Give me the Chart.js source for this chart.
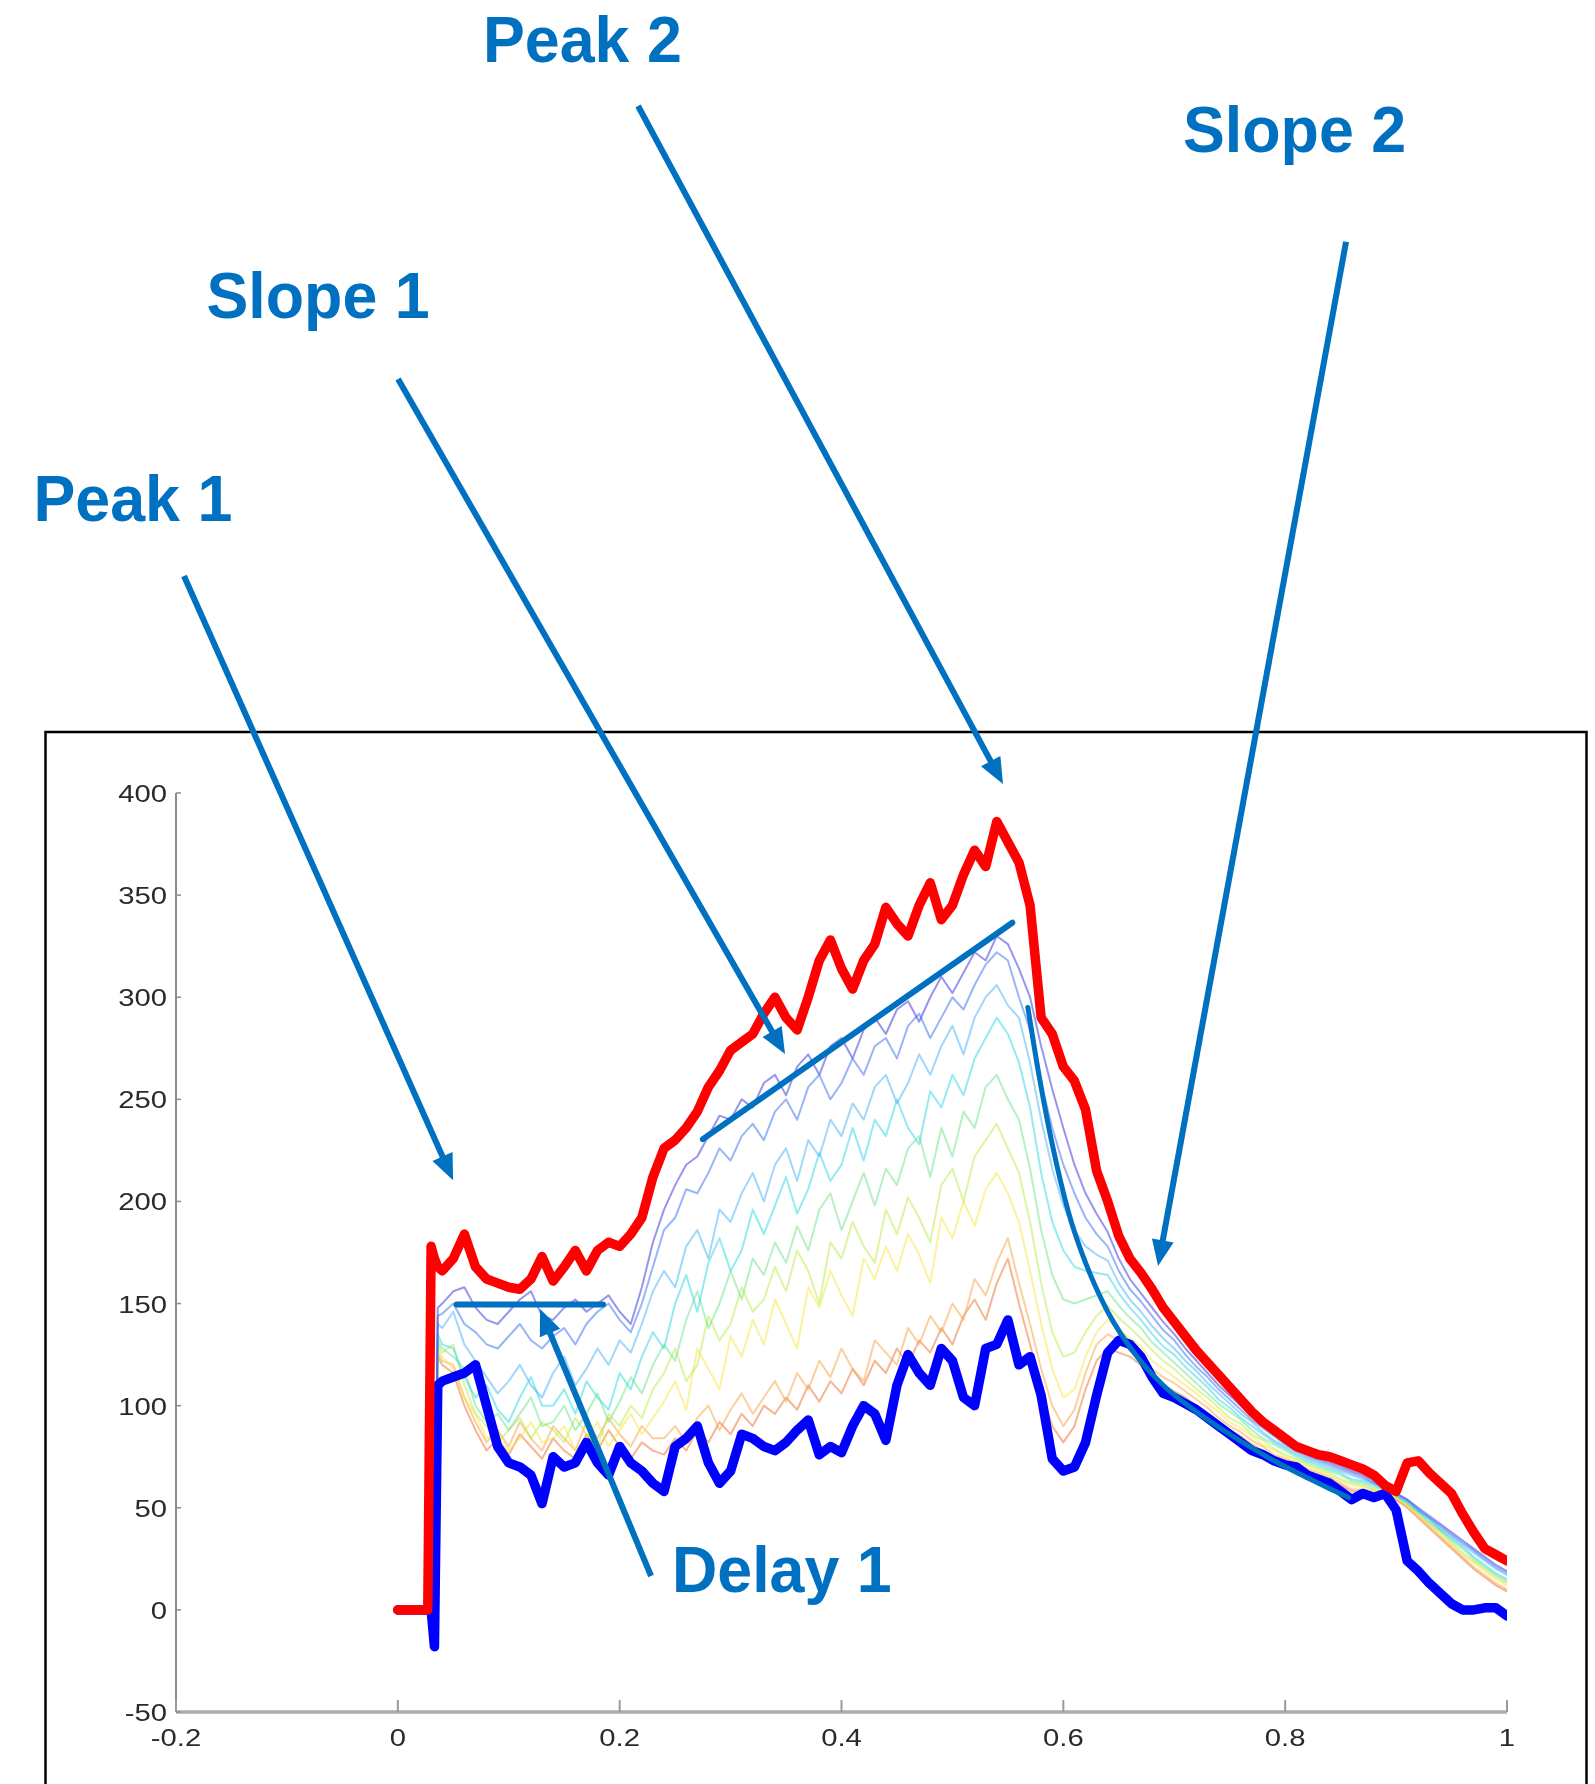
<!DOCTYPE html>
<html>
<head>
<meta charset="utf-8">
<script src="https://cdn.jsdelivr.net/npm/chart.js@4.4.1/dist/chart.umd.min.js"></script>
<style>
  html, body { margin: 0; padding: 0; background: #fff; }
  canvas { display: block; }
</style>
</head>
<body>
<canvas id="chart1" width="1595" height="1784"></canvas>
<script>
// x positions (s)
var xs = [0, 0.01, 0.02, 0.027, 0.03, 0.033, 0.036,
  0.04, 0.05, 0.06, 0.07, 0.08, 0.09, 0.10, 0.11, 0.12, 0.13,
  0.14, 0.15, 0.16, 0.17, 0.18, 0.19, 0.20, 0.21, 0.22, 0.23,
  0.24, 0.25, 0.26, 0.27, 0.28, 0.29, 0.30, 0.31, 0.32, 0.33,
  0.34, 0.35, 0.36, 0.37, 0.38, 0.39, 0.40, 0.41, 0.42, 0.43,
  0.44, 0.45, 0.46, 0.47, 0.48, 0.49, 0.50, 0.51, 0.52, 0.53,
  0.54, 0.55, 0.56, 0.57, 0.58, 0.59, 0.60, 0.61, 0.62, 0.63,
  0.64, 0.65, 0.66, 0.67, 0.68, 0.69, 0.70, 0.71, 0.72, 0.73,
  0.74, 0.75, 0.76, 0.77, 0.78, 0.79, 0.80, 0.81, 0.82, 0.83,
  0.84, 0.85, 0.86, 0.87, 0.88, 0.89, 0.90, 0.91, 0.92, 0.93,
  0.94, 0.95, 0.96, 0.97, 0.98, 0.99, 1.00];

// thick upper trace
var redLine = [0, 0, 0, 0, 178, 172, 168,
  166, 172, 184, 168, 162, 160, 158, 157, 162, 173,
  161, 168, 176, 166, 176, 180, 178, 184, 192, 212,
  226, 230, 236, 244, 256, 264, 274, 278, 282, 292,
  300, 290, 284, 300, 318, 328, 314, 304, 318, 326,
  344, 336, 330, 345, 356, 338, 345, 360, 372, 364,
  386, 376, 366, 345, 290, 282, 266, 259, 245, 215,
  200, 183, 172, 165, 157, 148, 141, 134, 127, 121,
  115, 109, 103, 97, 92, 88, 84, 80, 78, 76,
  75, 73, 71, 69, 66, 61, 58, 72, 73, 67,
  62, 57, 47, 38, 30, 27, 24];

// thick lower trace
var blueLine = [0, 0, 0, 0, 0, -18, 110,
  112, 114, 116, 120, 100, 80, 72, 70, 66, 52,
  75, 70, 72, 82, 72, 66, 80, 72, 68, 62,
  58, 80, 84, 90, 72, 62, 68, 86, 84, 80,
  78, 82, 88, 93, 76, 80, 77, 90, 100, 96,
  83, 110, 125, 116, 110, 128, 122, 104, 100, 128,
  130, 142, 120, 124, 105, 74, 68, 70, 82, 105,
  126, 132, 130, 124, 114, 106, 104, 101, 98, 94,
  90, 86, 82, 78, 76, 73, 71, 70, 66, 64,
  62, 58, 54, 57, 55, 57, 49, 24, 19, 13,
  8, 3, 0, 0, 1, 1, -3];

// thin intermediate traces
var t1 = [0, 0, 0, 0, 0, 0, 148,
  150, 156, 158, 148, 142, 140, 146, 152, 156, 144,
  142, 148, 152, 146, 150, 154, 146, 140, 158, 180,
  196, 208, 218, 222, 232, 242, 240, 250, 246, 258,
  262, 252, 266, 272, 262, 276, 280, 270, 284, 290,
  282, 294, 298, 288, 300, 310, 302, 312, 322, 318,
  330, 326, 314, 300, 276, 255, 236, 218, 204, 194,
  185, 172, 162, 155, 148, 141, 135, 128, 122, 116,
  110, 105, 100, 95, 90, 86, 82, 79, 76, 74,
  72, 70, 68, 66, 63, 60, 57, 54, 50, 46,
  42, 38, 34, 30, 26, 22, 19];
var t2 = [0, 0, 0, 0, 0, 0, 144,
  145, 150, 140, 136, 130, 128, 134, 140, 132, 128,
  134, 138, 130, 140, 146, 150, 142, 136, 150, 168,
  186, 192, 206, 204, 214, 226, 220, 232, 238, 230,
  244, 250, 240, 256, 262, 250, 258, 270, 262, 276,
  280, 270, 286, 292, 280, 290, 300, 294, 306, 316,
  322, 318, 300, 284, 258, 236, 218, 204, 192, 184,
  178, 166, 157, 151, 144, 137, 132, 125, 119, 114,
  108, 103, 98, 93, 89, 85, 81, 78, 75, 73,
  71, 69, 67, 65, 62, 60, 57, 54, 49, 45,
  41, 37, 33, 29, 25, 21, 18];
var t3 = [0, 0, 0, 0, 0, 0, 140,
  138, 146, 130, 122, 114, 106, 112, 120, 110, 104,
  116, 124, 110, 118, 128, 120, 132, 126, 140, 156,
  166, 158, 178, 186, 172, 196, 190, 204, 214, 200,
  218, 226, 210, 230, 222, 240, 232, 248, 240, 256,
  262, 248, 258, 272, 262, 276, 286, 272, 290, 300,
  306, 296, 290, 268, 240, 216, 198, 186, 178, 174,
  171, 160, 152, 146, 139, 133, 128, 122, 117, 111,
  106, 101, 96, 92, 87, 83, 80, 77, 74, 72,
  70, 68, 66, 64, 62, 59, 56, 53, 49, 45,
  40, 36, 32, 28, 24, 20, 17];
var t4 = [0, 0, 0, 0, 0, 0, 135,
  130, 128, 114, 104, 110, 98, 92, 104, 114, 100,
  100, 108, 96, 112, 104, 98, 116, 108, 124, 136,
  128, 150, 164, 146, 170, 182, 166, 176, 196, 184,
  198, 212, 194, 206, 224, 210, 218, 236, 220, 240,
  232, 250, 236, 228, 254, 246, 262, 252, 270, 280,
  290, 282, 268, 246, 214, 190, 176, 168, 166, 165,
  164, 155, 148, 142, 135, 129, 125, 119, 114, 109,
  103, 99, 94, 90, 86, 82, 79, 76, 73, 71,
  69, 67, 64, 63, 61, 59, 56, 53, 48, 44,
  39, 35, 31, 26, 22, 18, 15];
var t5 = [0, 0, 0, 0, 0, 0, 132,
  128, 124, 118, 100, 92, 96, 88, 96, 104, 90,
  92, 100, 88, 96, 106, 92, 102, 114, 106, 120,
  130, 122, 142, 156, 138, 150, 166, 152, 172, 164,
  180, 170, 188, 176, 196, 204, 186, 200, 214, 198,
  216, 208, 226, 232, 212, 236, 222, 244, 236, 256,
  262, 250, 240, 216, 186, 164, 152, 150, 152, 154,
  156, 149, 143, 138, 131, 126, 121, 116, 111, 106,
  101, 97, 93, 88, 84, 81, 78, 75, 72, 70,
  68, 66, 63, 62, 60, 59, 56, 52, 48, 43,
  39, 34, 30, 25, 21, 17, 14];
var t6 = [0, 0, 0, 0, 0, 0, 130,
  126, 130, 110, 96, 90, 82, 88, 94, 84, 92,
  88, 82, 94, 86, 80, 96, 90, 100, 94, 108,
  116, 128, 112, 120, 144, 132, 140, 158, 146, 152,
  168, 156, 176, 166, 150, 180, 172, 190, 178, 170,
  196, 184, 202, 192, 180, 208, 216, 200, 222, 230,
  238, 226, 214, 190, 160, 136, 124, 126, 136, 144,
  149, 143, 138, 133, 127, 122, 118, 113, 108, 104,
  99, 94, 91, 86, 83, 79, 76, 74, 71, 69,
  67, 64, 62, 61, 59, 58, 55, 52, 47, 42,
  38, 33, 28, 24, 20, 16, 13];
var t7 = [0, 0, 0, 0, 0, 0, 128,
  124, 118, 104, 96, 84, 88, 78, 84, 92, 82,
  84, 90, 78, 84, 92, 80, 88, 96, 86, 94,
  102, 112, 98, 128, 118, 108, 134, 124, 142, 130,
  152, 140, 128, 158, 148, 166, 154, 144, 172, 162,
  178, 166, 184, 174, 160, 192, 182, 200, 188, 206,
  214, 204, 190, 166, 140, 118, 104, 108, 124, 136,
  142, 137, 133, 129, 122, 118, 114, 110, 106, 101,
  97, 92, 89, 85, 81, 78, 75, 73, 70, 68,
  66, 63, 61, 60, 59, 58, 55, 51, 47, 42,
  37, 32, 27, 23, 19, 15, 12];
var t8 = [0, 0, 0, 0, 0, 0, 126,
  122, 120, 104, 92, 82, 88, 80, 92, 84, 78,
  90, 84, 78, 92, 84, 94, 86, 80, 90, 84,
  84, 90, 82, 94, 100, 88, 98, 106, 96, 104,
  112, 102, 116, 108, 122, 114, 128, 118, 112, 132,
  126, 120, 138, 130, 144, 136, 150, 142, 162, 154,
  170, 182, 160, 140, 118, 100, 90, 98, 116, 130,
  135, 132, 129, 124, 118, 114, 111, 107, 103, 99,
  94, 90, 87, 83, 80, 76, 74, 72, 69, 67,
  65, 62, 59, 59, 58, 57, 54, 51, 46, 41,
  36, 31, 26, 21, 17, 13, 10];
var t9 = [0, 0, 0, 0, 0, 0, 124,
  120, 116, 100, 88, 78, 84, 76, 86, 80, 74,
  84, 78, 74, 86, 78, 88, 80, 74, 82, 78,
  76, 84, 78, 88, 82, 92, 86, 96, 90, 100,
  96, 104, 98, 110, 102, 112, 106, 118, 110, 122,
  116, 128, 120, 132, 126, 138, 130, 144, 152, 142,
  160, 172, 150, 130, 108, 90, 82, 90, 108, 122,
  128, 126, 124, 120, 114, 110, 107, 104, 100, 96,
  92, 88, 85, 81, 78, 75, 73, 71, 68, 66,
  64, 61, 58, 58, 57, 57, 54, 50, 45, 40,
  35, 30, 25, 20, 16, 12, 9];

var thinSeries = [t1, t2, t3, t4, t5, t6, t7, t8, t9];
var thinColors = ['rgba(80,80,225,0.6)', 'rgba(70,120,240,0.55)', 'rgba(70,175,250,0.5)',
  'rgba(40,215,230,0.5)', 'rgba(110,225,140,0.5)', 'rgba(185,235,70,0.5)',
  'rgba(250,230,60,0.5)', 'rgba(248,170,80,0.55)', 'rgba(238,120,60,0.55)'];

// axis ticks
var xTicks = [-0.2, 0, 0.2, 0.4, 0.6, 0.8, 1];
var yTicks = [-50, 0, 50, 100, 150, 200, 250, 300, 350, 400];

// marker lines (data units)
var delayX = [0.053, 0.185];
var delayY = [149.5, 149.5];
var slope1X = [0.275, 0.554];
var slope1Y = [230.5, 336.5];
var slope2X = [0.568, 0.578, 0.59, 0.605, 0.62, 0.64, 0.665, 0.69, 0.715, 0.75, 0.79, 0.83, 0.857];
var slope2Y = [295, 262, 228, 194, 170, 146, 125, 110, 99, 86, 73, 62, 55];

// labels and arrows (data units, tail -> tip)
var noteText = ['Peak 1', 'Slope 1', 'Peak 2', 'Slope 2', 'Delay 1'];
var noteX = [-0.3285, -0.1725, 0.0768, 0.7079, 0.2472];
var noteY = [533.2, 632.6, 757.9, 713.9, 8.8];
var arrowFromX = [-0.1928, 0.0002, 0.2166, 0.8549, 0.2283];
var arrowFromY = [506.3, 602.7, 736.4, 669.9, 16.6];
var arrowToX = [0.0498, 0.3491, 0.5456, 0.6854, 0.1282];
var arrowToY = [210.4, 272.2, 404.4, 168.4, 147.3];

var noteBlue = '#0070C0';

function pts(xv, yv) {
  return xv.map(function (x, i) { return { x: x, y: yv[i] }; });
}

var datasets = [
  { data: pts(delayX, delayY), borderColor: noteBlue, borderWidth: 6, order: 0 },
  { data: pts(slope1X, slope1Y), borderColor: noteBlue, borderWidth: 6, order: 0 },
  { data: pts(slope2X, slope2Y), borderColor: noteBlue, borderWidth: 5, cubicInterpolationMode: 'monotone', order: 0 },
  { data: pts(xs, redLine), borderColor: '#ff0000', borderWidth: 9.5, order: 1 },
  { data: pts(xs, blueLine), borderColor: '#0000ff', borderWidth: 9.5, order: 2 }
];
thinSeries.forEach(function (s, i) {
  datasets.push({ data: pts(xs, s), borderColor: thinColors[i], borderWidth: 2, order: 3 + i });
});

function arrow(c, x1, y1, x2, y2) {
  var ang = Math.atan2(y2 - y1, x2 - x1);
  var L = 26, W = 11;
  var bx = x2 - L * Math.cos(ang), by = y2 - L * Math.sin(ang);
  c.beginPath();
  c.moveTo(x1, y1);
  c.lineTo(bx + 2 * Math.cos(ang), by + 2 * Math.sin(ang));
  c.stroke();
  c.beginPath();
  c.moveTo(x2, y2);
  c.lineTo(bx + W * Math.sin(ang), by - W * Math.cos(ang));
  c.lineTo(bx - W * Math.sin(ang), by + W * Math.cos(ang));
  c.closePath();
  c.fill();
}

var figurePlugin = {
  id: 'figure',
  beforeDraw: function (chart) {
    var c = chart.ctx;
    c.save();
    c.fillStyle = '#ffffff';
    c.fillRect(0, 0, chart.width, chart.height);
    // outer frame
    c.strokeStyle = '#000000';
    c.lineWidth = 2.5;
    c.strokeRect(45.5, 732, 1541, 1200);
    c.restore();
  },
  beforeDatasetsDraw: function (chart) {
    var c = chart.ctx, xa = chart.scales.x, ya = chart.scales.y, a = chart.chartArea;
    c.save();
    // axes
    c.strokeStyle = '#8c8c8c';
    c.lineWidth = 2;
    c.beginPath(); c.moveTo(a.left, a.top); c.lineTo(a.left, a.bottom); c.stroke();
    c.strokeStyle = '#adadad';
    c.lineWidth = 3.5;
    c.beginPath(); c.moveTo(a.left, a.bottom); c.lineTo(a.right, a.bottom); c.stroke();

    c.font = '24px "Liberation Sans", Arial, sans-serif';
    c.fillStyle = '#2a2a2a';
    yTicks.forEach(function (v) {
      var py = ya.getPixelForValue(v);
      c.strokeStyle = '#8c8c8c'; c.lineWidth = 1.5;
      c.beginPath(); c.moveTo(a.left, py); c.lineTo(a.left + 5, py); c.stroke();
      c.save();
      c.translate(a.left - 9, py + 9);
      c.scale(1.22, 1);
      c.textAlign = 'right';
      c.fillText(String(v), 0, 0);
      c.restore();
    });
    xTicks.forEach(function (v) {
      var px = xa.getPixelForValue(v);
      c.strokeStyle = '#9a9a9a'; c.lineWidth = 2;
      c.beginPath(); c.moveTo(px, a.bottom); c.lineTo(px, a.bottom - 12); c.stroke();
      c.save();
      c.translate(px, a.bottom + 34);
      c.scale(1.22, 1);
      c.textAlign = 'center';
      c.fillText(String(Number(v.toFixed(1))), 0, 0);
      c.restore();
    });
    c.restore();
  },
  afterDatasetsDraw: function (chart) {
    var c = chart.ctx, xa = chart.scales.x, ya = chart.scales.y;
    c.save();
    c.strokeStyle = noteBlue;
    c.fillStyle = noteBlue;
    c.lineWidth = 6;
    arrowFromX.forEach(function (v, i) {
      arrow(c, xa.getPixelForValue(v), ya.getPixelForValue(arrowFromY[i]),
        xa.getPixelForValue(arrowToX[i]), ya.getPixelForValue(arrowToY[i]));
    });
    c.font = 'bold 64px "Liberation Sans", Arial, sans-serif';
    c.textAlign = 'left';
    c.textBaseline = 'alphabetic';
    noteText.forEach(function (t, i) {
      c.save();
      c.translate(xa.getPixelForValue(noteX[i]), ya.getPixelForValue(noteY[i]));
      c.scale(0.98, 1);
      c.fillText(t, 0, 0);
      c.restore();
    });
    c.restore();
  }
};

var ctx1 = document.getElementById('chart1');
var myChart1 = new Chart(ctx1, {
  type: 'line',
  data: { datasets: datasets },
  options: {
    responsive: false,
    animation: false,
    devicePixelRatio: 1,
    layout: { padding: { left: 176, top: 793, right: 88, bottom: 72 } },
    elements: {
      point: { radius: 0 },
      line: { tension: 0, fill: false, borderJoinStyle: 'round', borderCapStyle: 'round' }
    },
    plugins: { legend: { display: false }, tooltip: { enabled: false } },
    scales: {
      x: {
        type: 'linear', min: -0.2, max: 1,
        ticks: { display: false },
        grid: { display: false },
        border: { display: false },
        afterFit: function (s) { s.height = 0; }
      },
      y: {
        type: 'linear', min: -50, max: 400,
        ticks: { display: false },
        grid: { display: false },
        border: { display: false },
        afterFit: function (s) { s.width = 0; }
      }
    }
  },
  plugins: [figurePlugin]
});
</script>
</body>
</html>
